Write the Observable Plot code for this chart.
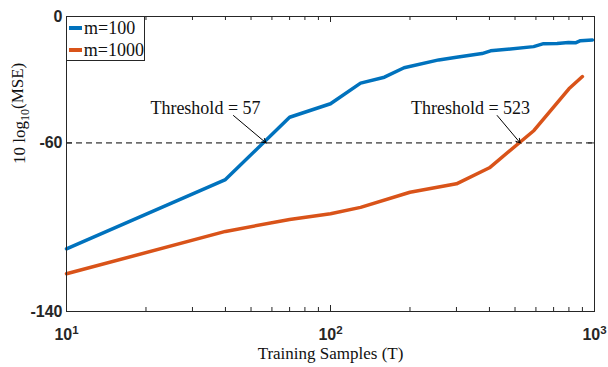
<!DOCTYPE html>
<html>
<head>
<meta charset="utf-8">
<script src="https://cdn.jsdelivr.net/npm/d3@7"></script>
<script src="https://cdn.jsdelivr.net/npm/@observablehq/plot@0.6"></script>
<style>
  html, body { margin: 0; padding: 0; background: white; }
  #wrap { position: relative; width: 608px; height: 367px; }
  #legend { position: absolute; background: white; border: 1px solid #262626; box-sizing: border-box;
            font-family: "Liberation Serif", "Times New Roman", serif; font-size: 18px; color: #111; }
  #legend .row { display: flex; align-items: center; height: 22px; }
  #legend .sw { width: 13px; height: 3.5px; margin: 0 2px 0 2px; }
</style>
</head>
<body>
<div id="wrap"></div>
<script>
// ---- data ----
const seriesNames = ["m=100", "m=1000"];
const seriesColors = ["#0072BD", "#D95319"];
const T_m100 = [10, 40, 70, 100, 130, 160, 190, 257, 300, 375, 404, 588, 641, 722, 797, 847, 885, 982];
const mse_m100 = [-110.3, -77.4, -47.8, -41.4, -31.6, -28.8, -24.3, -20.6, -19.3, -17.6, -16.3, -14.3, -12.9, -12.8, -12.3, -12.5, -11.5, -11.1];
const T_m1000 = [10, 40, 70, 100, 130, 200, 300, 400, 590, 800, 900];
const mse_m1000 = [-122.1, -102.0, -96.3, -93.6, -90.6, -83.4, -79.4, -71.8, -54.1, -34.3, -28.5];
const thresholdLevel = -60;
const thresholdT = [57, 523];
const annotationLabels = ["Threshold = 57", "Threshold = 523"];
const annotationTextT = [33.6, 339];
const annotationTextY = [-43.6, -43.6];
const annotationTailT = [42.9, 428];
const annotationTailY = [-47.0, -47.0];
const xMajorTicks = [10, 100, 1000];
const xMinorTicks = [20, 30, 40, 50, 60, 70, 80, 90, 200, 300, 400, 500, 600, 700, 800, 900];
const yTicks = [0, -60, -140];
const xLabel = "Training Samples (T)";
const yLabel = "10 log10(MSE)";

// ---- layout ----
const W = 608, H = 367, mL = 66, mR = 14, mT = 16, mB = 56;
const fh = H - mT - mB, fw = W - mL - mR;
const serif = "'Liberation Serif', 'Times New Roman', serif";
const sans = "'Liberation Sans', Arial, Helvetica, sans-serif";
const axisColor = "#262626";

const rows = [];
T_m100.forEach((t, i) => rows.push({T: t, mse: mse_m100[i], s: seriesNames[0]}));
T_m1000.forEach((t, i) => rows.push({T: t, mse: mse_m1000[i], s: seriesNames[1]}));
const ann = annotationLabels.map((l, i) => ({
  label: l, tx: annotationTextT[i], ty: annotationTextY[i],
  x1: annotationTailT[i], y1: annotationTailY[i], x2: thresholdT[i], y2: thresholdLevel
}));

const plot = Plot.plot({
  width: W, height: H,
  marginLeft: mL, marginRight: mR, marginTop: mT, marginBottom: mB,
  x: {type: "log", domain: [10, 1000]},
  y: {domain: [-140, 0]},
  color: {domain: seriesNames, range: seriesColors},
  style: {background: "white", color: axisColor},
  marks: [
    Plot.ruleY([thresholdLevel], {stroke: "black", strokeWidth: 1, strokeDasharray: "6,4"}),
    Plot.line(rows, {x: "T", y: "mse", z: "s", stroke: "s", strokeWidth: 3.5, strokeLinejoin: "round"}),
    Plot.arrow(ann, {x1: "x1", y1: "y1", x2: "x2", y2: "y2", stroke: "black", strokeWidth: 1, headLength: 7, bend: 0}),
    Plot.text(ann, {x: "tx", y: "ty", text: "label", fontFamily: serif, fontSize: 18, fill: "#111"}),
    Plot.frame({stroke: axisColor, strokeWidth: 1}),
    // inward ticks (bottom / top)
    Plot.tickX(xMajorTicks, {x: d => d, insetTop: fh - 6, stroke: axisColor}),
    Plot.tickX(xMajorTicks, {x: d => d, insetBottom: fh - 6, stroke: axisColor}),
    Plot.tickX(xMinorTicks, {x: d => d, insetTop: fh - 4, stroke: axisColor}),
    Plot.tickX(xMinorTicks, {x: d => d, insetBottom: fh - 4, stroke: axisColor}),
    // inward ticks (left / right)
    Plot.tickY(yTicks, {y: d => d, insetRight: fw - 6, stroke: axisColor}),
    Plot.tickY(yTicks, {y: d => d, insetLeft: fw - 6, stroke: axisColor}),
    Plot.axisX({ticks: xMajorTicks, tickSize: 0, tickPadding: 17, label: null,
      tickFormat: d => String(Math.round(Math.log10(d))),
      fontSize: 16, fontWeight: "bold", fontFamily: sans}),
    Plot.axisY({ticks: yTicks, tickSize: 0, tickPadding: 4, label: null,
      tickFormat: d => String(d), fontSize: 16, fontWeight: "bold", fontFamily: sans}),
    Plot.text([xLabel], {frameAnchor: "bottom", dy: 47, fontFamily: serif, fontSize: 17, fill: "#111"}),
    Plot.text([yLabel], {frameAnchor: "left", rotate: -90, dx: -47, fontFamily: serif, fontSize: 17, fill: "#111"})
  ]
});

const svg = d3.select(plot);
// x tick labels: 10^k with superscript
svg.selectAll('g[aria-label="x-axis tick label"] text').each(function() {
  const k = this.textContent;
  const t = d3.select(this);
  t.text(null).attr("font-weight", "bold").attr("font-size", 16).attr("font-family", sans).attr("fill", axisColor);
  t.append("tspan").text("10");
  t.append("tspan").attr("dy", "-0.5em").attr("font-size", 11.5).text(k);
});
svg.selectAll('g[aria-label="y-axis tick label"] text')
  .attr("font-weight", "bold").attr("font-size", 16).attr("font-family", sans).attr("fill", axisColor);
// y label with subscript
svg.selectAll("text").filter(function() { return this.textContent === yLabel; }).each(function() {
  const t = d3.select(this);
  t.text(null);
  t.append("tspan").text("10 log");
  t.append("tspan").attr("dy", "0.3em").attr("font-size", 12).text("10");
  t.append("tspan").attr("dy", "-0.3em").text("(MSE)");
});

const wrap = document.getElementById("wrap");
wrap.appendChild(plot);

// legend overlay in top-left corner of the frame
const legend = document.createElement("div");
legend.id = "legend";
legend.style.left = mL + "px";
legend.style.top = mT + "px";
legend.style.width = "79px";
legend.style.height = "45px";
seriesNames.forEach((n, i) => {
  const r = document.createElement("div");
  r.className = "row";
  const sw = document.createElement("div");
  sw.className = "sw";
  sw.style.background = seriesColors[i];
  const lab = document.createElement("span");
  lab.textContent = n;
  r.appendChild(sw); r.appendChild(lab);
  legend.appendChild(r);
});
wrap.appendChild(legend);
</script>
</body>
</html>
